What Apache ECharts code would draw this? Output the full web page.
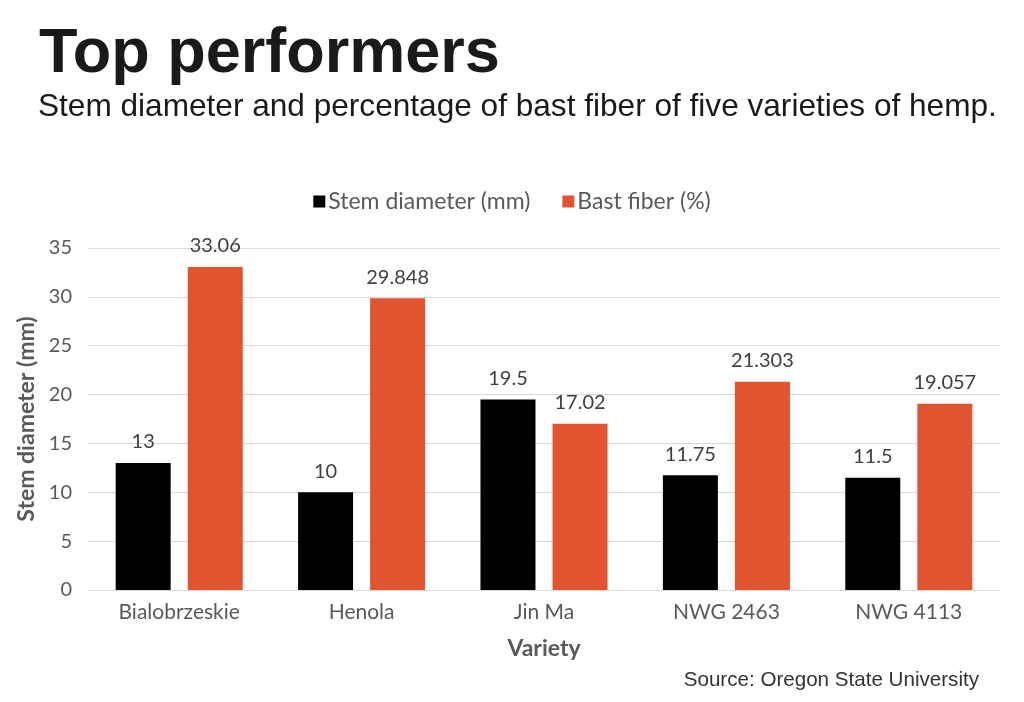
<!DOCTYPE html>
<html><head><meta charset="utf-8">
<script src="https://cdn.jsdelivr.net/npm/echarts@6/dist/echarts.min.js"></script>
<style>html,body{margin:0;padding:0;background:#fff}#c{width:1024px;height:702px}</style>
</head><body><div id="c"></div>
<script>
const categories = ['Bialobrzeskie', 'Henola', 'Jin Ma', 'NWG 2463', 'NWG 4113'];
const stemDiameter = [13, 10, 19.5, 11.75, 11.5];
const bastFiber = [33.06, 29.848, 17.02, 21.303, 19.057];
const seriesNames = ['Stem diameter (mm)', 'Bast fiber (%)'];

const chart = echarts.init(document.getElementById('c'), null, {renderer: 'canvas'});
const lblFont = 'Lato, "Open Sans", sans-serif';
const headFont = '"Liberation Sans", Arial, sans-serif';
chart.setOption({
  animation: false,
  title: [
    {text: 'Top performers', left: 34, top: 18,
     textStyle: {fontFamily: headFont, fontWeight: 'bold', fontSize: 63, color: '#1a1a1a'}},
    {text: 'Stem diameter and percentage of bast fiber of five varieties of hemp.', left: 33, top: 86,
     textStyle: {fontFamily: headFont, fontWeight: 'normal', fontSize: 31.6, color: '#1a1a1a'}},
    {text: 'Source: Oregon State University', right: 40, top: 665,
     textStyle: {fontFamily: headFont, fontWeight: 'normal', fontSize: 20.6, color: '#333'}}
  ],
  legend: {
    top: 185, left: 'center', itemWidth: 12, itemHeight: 12, itemGap: 32,
    icon: 'rect',
    textStyle: {fontFamily: lblFont, fontSize: 23, color: '#595959', padding: [0, 0, 0, -2]},
    data: seriesNames
  },
  grid: {left: 88, right: 24, top: 248, bottom: 112, containLabel: false},
  xAxis: {
    type: 'category', data: categories,
    axisLine: {lineStyle: {color: '#d9d9d9', width: 1}},
    axisTick: {show: false},
    axisLabel: {fontFamily: lblFont, fontSize: 21, color: '#595959', margin: 12},
    name: 'Variety', nameLocation: 'middle', nameGap: 47,
    nameTextStyle: {fontFamily: lblFont, fontSize: 23, fontWeight: 'bold', color: '#595959'}
  },
  yAxis: {
    type: 'value', min: 0, max: 35, interval: 5,
    axisLine: {show: false}, axisTick: {show: false},
    splitLine: {lineStyle: {color: '#d9d9d9', width: 1}},
    axisLabel: {fontFamily: lblFont, fontSize: 20, color: '#595959', margin: 16},
    name: 'Stem diameter (mm)', nameLocation: 'middle', nameGap: 50, nameRotate: 90,
    nameTextStyle: {fontFamily: lblFont, fontSize: 23, fontWeight: 'bold', color: '#595959'}
  },
  series: [
    {name: seriesNames[0], type: 'bar', data: stemDiameter, barWidth: 55, barGap: '31%',
     itemStyle: {color: '#000000'},
     label: {show: true, position: 'top', distance: 11, fontFamily: lblFont, fontSize: 20, color: '#404040'}},
    {name: seriesNames[1], type: 'bar', data: bastFiber, barWidth: 55,
     itemStyle: {color: '#E05430'},
     label: {show: true, position: 'top', distance: 11, fontFamily: lblFont, fontSize: 20, color: '#404040'}}
  ]
});
</script></body></html>
